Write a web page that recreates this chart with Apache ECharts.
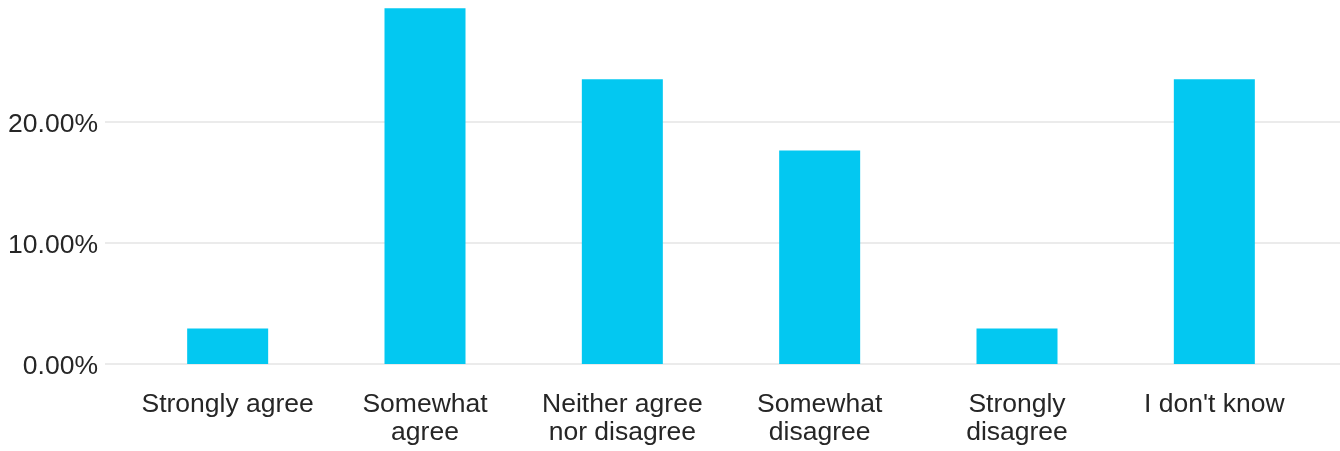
<!DOCTYPE html>
<html>
<head>
<meta charset="utf-8">
<script src="https://cdn.jsdelivr.net/npm/echarts@6/dist/echarts.min.js"></script>
<style>
html,body{margin:0;padding:0;background:#fff;}
#chart{width:1340px;height:451px;}
</style>
</head>
<body>
<div id="chart"></div>
<script>
const categories = ["Strongly agree", "Somewhat\nagree", "Neither agree\nnor disagree", "Somewhat\ndisagree", "Strongly\ndisagree", "I don't know"];
const values = [2.94, 29.41, 23.53, 17.65, 2.94, 23.53];
const yTicks = [0, 10, 20, 30];

const FONT = "'Liberation Sans', Arial, sans-serif";
const chart = echarts.init(document.getElementById('chart'));
chart.setOption({
  animation: false,
  backgroundColor: '#ffffff',
  grid: [
    {left: 105, right: 0, top: 1, bottom: 87},
    {left: 129, right: 27, top: 1, bottom: 87}
  ],
  xAxis: [
    {gridIndex: 0, type: 'category', data: [''], show: false},
    {gridIndex: 1, type: 'category', data: categories,
     axisLine: {show: false}, axisTick: {show: false},
     axisLabel: {fontSize: 26.5, fontFamily: FONT, color: '#262626', margin: 27, lineHeight: 28, interval: 0}}
  ],
  yAxis: [
    {gridIndex: 0, type: 'value', min: yTicks[0], max: yTicks[yTicks.length - 1], interval: 10,
     axisLine: {show: false}, axisTick: {show: false},
     axisLabel: {fontSize: 26.5, fontFamily: FONT, color: '#262626', margin: 7, showMaxLabel: false,
       formatter: v => '{a|' + v.toFixed(2) + '%}',
       rich: {a: {fontSize: 26.5, fontFamily: FONT, color: '#262626', padding: [6, 0, 0, 0]}}},
     splitLine: {show: true, showMaxLine: false, lineStyle: {color: '#e4e4e4', width: 1.5}}},
    {gridIndex: 1, type: 'value', min: yTicks[0], max: yTicks[yTicks.length - 1], show: false, splitLine: {show: false}}
  ],
  series: [
    {type: 'bar', xAxisIndex: 0, yAxisIndex: 0, data: []},
    {type: 'bar', xAxisIndex: 1, yAxisIndex: 1, data: values, barWidth: 81,
     itemStyle: {color: '#03C8F1'}}
  ]
});
</script>
</body>
</html>
